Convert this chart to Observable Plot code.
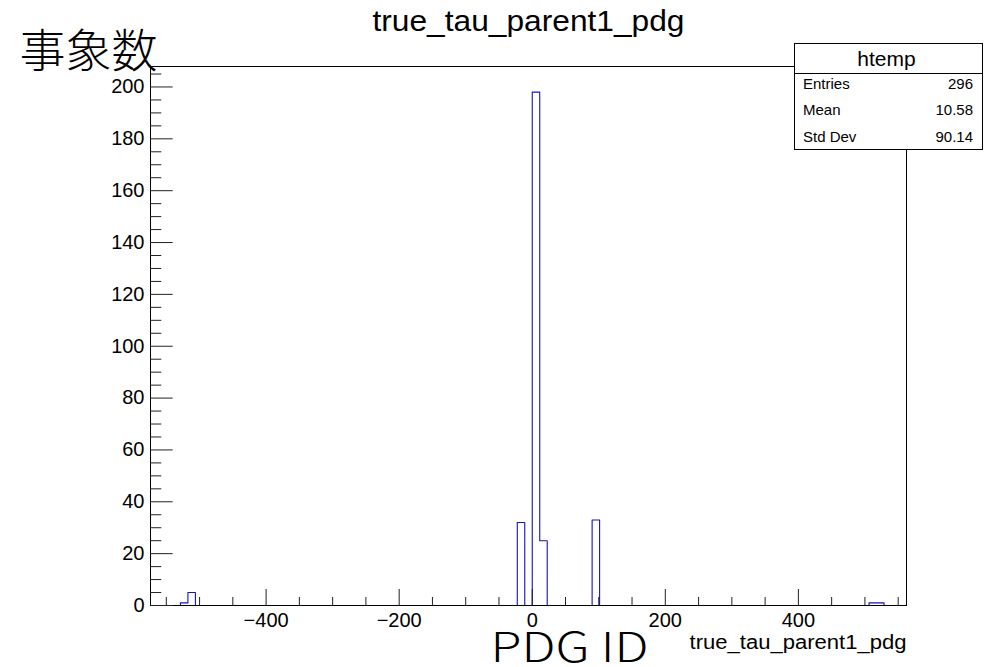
<!DOCTYPE html>
<html>
<head>
<meta charset="utf-8">
<script src="https://cdn.jsdelivr.net/npm/d3@7"></script>
<script src="https://cdn.jsdelivr.net/npm/@observablehq/plot@0.6"></script>
<style>
  html, body { margin: 0; padding: 0; background: #fff; }
  #chart { width: 989px; height: 667px; }
</style>
</head>
<body>
<div id="chart"></div>
<script>
// ---- Data ----
const title = "true_tau_parent1_pdg";
const yLabel = "事象数";
const xLabel = "PDG ID";
const xVarName = "true_tau_parent1_pdg";
const xMin = -573.75;
const xMax = 562.5;
const binWidth = 11.25;
const binLow = [-528.75, -517.5, -22.5, 0, 11.25, 90, 506.25, 517.5];
const counts = [1, 5, 32, 198, 25, 33, 1, 1];
const yMax = 207.9;
const xMajorTicks = [-400, -200, 0, 200, 400];
const xMinorTicks = [-550, -500, -450, -350, -300, -250, -150, -100, -50, 50, 100, 150, 250, 300, 350, 450, 500, 550];
const yMajorTicks = [0, 20, 40, 60, 80, 100, 120, 140, 160, 180, 200];
const yMinorTicks = d3.range(0, 206, 5).filter(v => v % 20 !== 0);
const statsName = "htemp";
const statsLabels = ["Entries", "Mean", "Std Dev"];
const statsValues = ["296", "10.58", "90.14"];

// full binned series (empty bins are zero)
const nBins = Math.round((xMax - xMin) / binWidth);
const steps = d3.range(nBins + 1).map(i => {
  const x0 = xMin + i * binWidth;
  const j = binLow.findIndex(b => Math.abs(b - x0) < 1e-6);
  return {x: x0, y: (j >= 0 && i < nBins) ? counts[j] : 0};
});

const sans = "'Liberation Sans', Arial, Helvetica, sans-serif";
const cjk = "'Noto Sans CJK JP', 'Noto Sans CJK SC', sans-serif";

const chart = Plot.plot({
  width: 989,
  height: 667,
  marginLeft: 150,
  marginRight: 83,
  marginTop: 66,
  marginBottom: 62,
  style: {fontFamily: sans, background: "#fff", color: "#000"},
  x: {domain: [xMin, xMax]},
  y: {domain: [0, yMax]},
  marks: [
    Plot.line(steps, {x: "x", y: "y", curve: "step-after", stroke: "#1414b4", strokeWidth: 1.1}),
    Plot.frame({stroke: "#000", strokeWidth: 1}),
    Plot.axisX(xMajorTicks, {tickSize: -16, text: null, label: null, stroke: "#222"}),
    Plot.axisX(xMinorTicks, {tickSize: -8, text: null, label: null, stroke: "#222"}),
    Plot.axisX(xMajorTicks, {tickSize: 0, tickPadding: 7, fontSize: 20, label: null, tickFormat: d3.format("d")}),
    Plot.axisY(yMajorTicks, {tickSize: -22.7, text: null, label: null, stroke: "#222"}),
    Plot.axisY(yMinorTicks, {tickSize: -11.3, text: null, label: null, stroke: "#222"}),
    Plot.axisY(yMajorTicks, {tickSize: 0, tickPadding: 6, fontSize: 20, label: null}),
    Plot.text([title], {frameAnchor: "top", dy: -36, lineAnchor: "bottom", fontSize: 29, fontFamily: sans, className: "t-title"}),
    Plot.text([yLabel], {frameAnchor: "top-left", dx: -62, dy: 0, textAnchor: "middle", lineAnchor: "bottom", fontSize: 46, fontWeight: 300, fontFamily: cjk, className: "t-ylab"}),
    Plot.text([xLabel], {frameAnchor: "bottom", dx: 41, dy: 56, textAnchor: "middle", lineAnchor: "bottom", fontSize: 41, fontWeight: 300, fontFamily: cjk, className: "t-xlab"}),
    Plot.text([xVarName], {frameAnchor: "bottom-right", dy: 43, textAnchor: "end", lineAnchor: "bottom", fontSize: 20, fontFamily: sans, className: "t-var"})
  ]
});
document.getElementById("chart").appendChild(chart);

// stretch texts horizontally like the ROOT canvas rendering
const svg = d3.select(chart);
const stretch = {"t-title": 312, "t-xlab": 158, "t-var": 217};
Object.entries(stretch).forEach(([cls, len]) => {
  svg.selectAll(`.${cls} text`).attr("textLength", len).attr("lengthAdjust", "spacingAndGlyphs");
});

// ---- statistics box (legend-like annotation) ----
const box = {x0: 794.5, x1: 982.5, y0: 43.5, ySep: 73.5, y1: 149.5};
const g = svg.append("g").attr("font-family", sans).attr("text-anchor", "start");
g.append("rect").attr("x", box.x0).attr("y", box.y0)
  .attr("width", box.x1 - box.x0).attr("height", box.y1 - box.y0)
  .attr("fill", "#fff").attr("stroke", "#000").attr("stroke-width", 1);
g.append("line").attr("x1", box.x0).attr("x2", box.x1).attr("y1", box.ySep).attr("y2", box.ySep)
  .attr("stroke", "#000");
g.append("text").attr("x", (box.x0 + box.x1) / 2 - 2).attr("y", 66)
  .attr("text-anchor", "middle").attr("font-size", 21).text(statsName);
const rowBase = [88.5, 115, 141.5];
statsLabels.forEach((lab, i) => {
  g.append("text").attr("x", 803).attr("y", rowBase[i]).attr("font-size", 15)
    .attr("text-anchor", "start").text(lab);
  g.append("text").attr("x", 973).attr("y", rowBase[i]).attr("font-size", 15)
    .attr("text-anchor", "end").text(statsValues[i]);
});
</script>
</body>
</html>
